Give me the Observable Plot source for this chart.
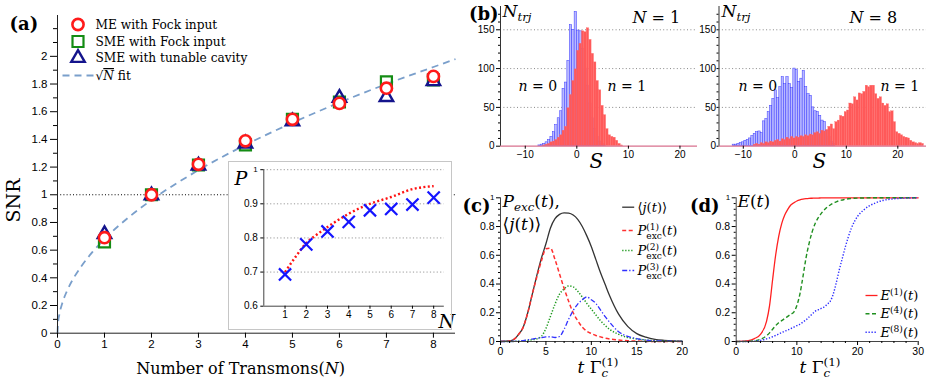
<!DOCTYPE html>
<html><head><meta charset="utf-8">
<script src="https://cdn.jsdelivr.net/npm/d3@7"></script>
<script src="https://cdn.jsdelivr.net/npm/@observablehq/plot@0.6"></script>
<style>
body{margin:0;background:#fff}
#fig{position:relative;width:926px;height:381px;overflow:hidden;background:#fff}
</style></head>
<body><div id="fig"></div>
<script>
// ---------------- data: panel (a) ----------------
const nTransmons = [1, 2, 3, 4, 5, 6, 7, 8];
const snrME = [0.69, 1.00, 1.22, 1.39, 1.545, 1.66, 1.77, 1.855];
const snrSMEFock = [0.66, 1.00, 1.215, 1.36, 1.545, 1.67, 1.815, 1.83];
const snrSMETunable = [0.715, 0.995, 1.21, 1.37, 1.53, 1.70, 1.705, 1.82];
const fitN = [0, 0.01, 0.04, 0.1, 0.2, 0.35, 0.5, 0.75, 1, 1.5, 2, 3, 4, 5, 6, 7, 8, 8.47];
const fitSNR = [0, 0.068, 0.136, 0.215, 0.304, 0.402, 0.48, 0.589, 0.68, 0.833, 0.962, 1.178, 1.36, 1.52, 1.666, 1.80, 1.923, 1.98];
const ticksA_y = [0, 0.2, 0.4, 0.6, 0.8, 1, 1.2, 1.4, 1.6, 1.8, 2];
const minorA_y = [0.1, 0.3, 0.5, 0.7, 0.9, 1.1, 1.3, 1.5, 1.7, 1.9, 2.1, 2.2];
const ticksA_x = [0, 1, 2, 3, 4, 5, 6, 7, 8];
const legendA = ["ME with Fock input", "SME with Fock input", "SME with tunable cavity", "√~{*N*} fit"];
// inset
const insetP = [0.693, 0.781, 0.819, 0.847, 0.881, 0.885, 0.898, 0.918];
const insetCurveN = [1, 1.5, 2, 2.5, 3, 4, 5, 6, 7, 8];
const insetCurveP = [0.70, 0.745, 0.785, 0.81, 0.832, 0.871, 0.90, 0.92, 0.943, 0.952];
const ticksInset_y = [0.6, 0.7, 0.8, 0.9];
const gridInset = [0.7, 0.8, 0.9, 1.0];

// ---------------- data: panel (b) histograms ----------------
const binWidthN1 = 0.47;
const blueN1Start = -7.24;
const blueN1 = [1,2,3,5,8,12,18,27,36,45,74,82,110,156,150,173,149,148,125,100,78,55,36,22,12,6,3,1];
const redN1Start = -6.30;
const redN1 = [1,2,3,5,6,8,11,14,20,25,49,66,84,99,123,132,148,147,152,137,119,108,84,72,52,40,22,14,12,11,7,3,1];
const binWidthN8 = 0.453;
const blueN8Start = -11.84;
const blueN8 = [2,2,3,4,5,7,8,10,13,16,18,19,17,32,35,44,52,61,72,62,76,89,80,89,80,75,100,98,83,87,97,76,67,65,50,45,44,39,33,31,20,12,6,3];
const redN8Start = -7.76;
const redN8 = [2,3,2,4,3,5,4,6,5,7,8,6,9,8,11,9,12,10,12,11,13,12,14,13,15,14,17,18,16,20,19,21,25,28,22,31,33,39,38,44,46,55,54,63,59,68,67,70,78,76,78,78,67,61,63,55,52,54,44,45,31,18,16,14,12,11,10,7,5,4,3,4,3];
const ticksB_y = [0, 50, 100, 150];
const minorB_y = [10,20,30,40,60,70,80,90,110,120,130,140,160,170];
const ticksB_x = [-10, 0, 10, 20];

// ---------------- data: panel (c) ----------------
const tC = [0,1,1.5,2,2.5,3,3.5,4,4.5,5,5.5,6,6.5,7,7.5,8,8.5,9,9.5,10,10.5,11,11.5,12,13,14,15,16,17,18,19,20];
const jT  = [0,0.004,0.016,0.05,0.1,0.2,0.33,0.46,0.58,0.68,0.79,0.855,0.885,0.895,0.893,0.88,0.85,0.8,0.735,0.66,0.57,0.48,0.4,0.32,0.19,0.105,0.055,0.03,0.015,0.008,0.004,0.002];
const pExc1 = [0,0.004,0.016,0.05,0.1,0.2,0.33,0.45,0.56,0.645,0.65,0.57,0.47,0.37,0.28,0.2,0.145,0.1,0.072,0.055,0.042,0.032,0.024,0.018,0.01,0.005,0.003,0.001,0,0,0,0];
const pExc2 = [0,0,0.001,0.002,0.004,0.008,0.012,0.018,0.035,0.09,0.175,0.26,0.33,0.365,0.387,0.38,0.35,0.31,0.265,0.225,0.185,0.145,0.113,0.085,0.05,0.028,0.018,0.01,0.005,0.003,0.002,0.001];
const pExc3 = [0,0,0.001,0.003,0.006,0.012,0.017,0.022,0.027,0.032,0.033,0.028,0.035,0.085,0.155,0.215,0.26,0.29,0.31,0.29,0.265,0.22,0.175,0.135,0.068,0.035,0.02,0.01,0.005,0.003,0.002,0.001];
const ticksC_x = [0, 5, 10, 15, 20];
const minorC_x = [1,2,3,4,6,7,8,9,11,12,13,14,16,17,18,19];
const ticksCD_y = [0, 0.2, 0.4, 0.6, 0.8];
const minorCD_y = [0.04,0.08,0.12,0.16,0.24,0.28,0.32,0.36,0.44,0.48,0.52,0.56,0.64,0.68,0.72,0.76,0.84,0.88,0.92,0.96];
const legendC = ["⟨*j*(*t*)⟩", "*P*_{exc}^{(1)}(*t*)", "*P*_{exc}^{(2)}(*t*)", "*P*_{exc}^{(3)}(*t*)"];

// ---------------- data: panel (d) ----------------
const tD = [0,1,2,3,4,5,5.5,6,6.5,7,7.5,8,8.5,9,9.5,10,10.5,11,11.5,12,12.5,13,13.5,14,14.5,15,15.5,16,16.5,17,17.5,18,18.5,19,19.5,20,21,22,23,24,25,26,28,30];
const e1 = [0,0.002,0.006,0.02,0.05,0.14,0.25,0.43,0.6,0.73,0.82,0.88,0.92,0.95,0.965,0.978,0.986,0.991,0.994,0.996,0.997,0.998,0.998,0.999,0.999,0.999,1,1,1,1,1,1,1,1,1,1,1,1,1,1,1,1,1,1];
const e4 = [0,0,0.001,0.005,0.015,0.04,0.06,0.085,0.11,0.13,0.145,0.16,0.175,0.19,0.205,0.25,0.33,0.45,0.58,0.68,0.76,0.82,0.86,0.89,0.915,0.935,0.95,0.963,0.972,0.98,0.985,0.99,0.993,0.995,0.997,0.998,0.999,1,1,1,1,1,1,1];
const e8 = [0,0,0,0.002,0.008,0.018,0.025,0.033,0.042,0.052,0.062,0.072,0.08,0.09,0.1,0.11,0.12,0.135,0.15,0.17,0.19,0.21,0.22,0.23,0.24,0.26,0.28,0.33,0.41,0.5,0.58,0.66,0.73,0.79,0.835,0.87,0.915,0.945,0.965,0.98,0.988,0.993,0.998,1];
const ticksD_x = [0, 10, 20, 30];
const minorD_x = [2,4,6,8,12,14,16,18,22,24,26,28];
const legendD = ["*E*^{(1)}(*t*)", "*E*^{(4)}(*t*)", "*E*^{(8)}(*t*)"];

// ---------------- helpers ----------------
const NS = "http://www.w3.org/2000/svg";
const SANS = "'Liberation Sans', Arial, Helvetica, sans-serif";
const SERIF = "'DejaVu Serif', 'Liberation Serif', serif";
const W = 926, H = 381;
const fig = document.getElementById("fig");

function box(x0, x1, y0, y1, ox = 0, oy = 0, w = W, h = H) {
  return {ox, oy, width: w, height: h, marginLeft: x0 - ox, marginRight: ox + w - x1, marginTop: y0 - oy, marginBottom: oy + h - y1};
}
const at = (B, X, Y) => ({frameAnchor: "top-left", dx: X - B.ox - B.marginLeft, dy: Y - B.oy - B.marginTop});
const label = (B, X, Y, s, o = {}) => Plot.text([s], {...at(B, X, Y), text: d => d, textAnchor: "start", lineAnchor: "bottom", fontFamily: SERIF, fontSize: 15, fill: "black", ...o});
const key = (B, X, Y, o) => Plot.dot([0], {...at(B, X, Y), ...o});
const seg = w => ({draw(ctx) { ctx.moveTo(-w / 2, 0); ctx.lineTo(w / 2, 0); }});
const pts = (xs, ys) => xs.map((x, i) => ({x, y: ys[i]}));
const bins = (start, width, counts) => counts.map((c, i) => ({x1: start + i * width - width / 2, x2: start + i * width + width / 2, y: c}));
const fmt = d3.format("~g");

function richify(svg) {
  svg.querySelectorAll("text").forEach(t => {
    const src = t.textContent;
    if (t.children.length || !/[*]|[_^~]\{/.test(src)) return;
    const F = parseFloat(getComputedStyle(t).fontSize) || 12;
    const dyAttr = t.getAttribute("dy");
    let base = 0;
    if (dyAttr) base = /em$/.test(dyAttr) ? parseFloat(dyAttr) * F : parseFloat(dyAttr);
    t.removeAttribute("dy");
    t.textContent = "";
    const parts = [];
    let italic = false, buf = "", i = 0;
    const flush = () => { if (buf) { parts.push({level: 0, items: [{text: buf, italic}]}); buf = ""; } };
    while (i < src.length) {
      const c = src[i];
      if (c === "*") { flush(); italic = !italic; i++; continue; }
      if ("_^~".includes(c) && src[i + 1] === "{") {
        flush();
        const j = src.indexOf("}", i + 2);
        const inner = src.slice(i + 2, j);
        const items = []; let it = italic, b = "";
        for (const ch of inner) { if (ch === "*") { if (b) items.push({text: b, italic: it}); b = ""; it = !it; } else b += ch; }
        if (b) items.push({text: b, italic: it});
        parts.push({level: c === "_" ? -1 : c === "^" ? 1 : 0, over: c === "~", items});
        i = j + 1; continue;
      }
      buf += c; i++;
    }
    flush();
    let cur = -base, prev = null, pendingDx = 0;
    for (const p of parts) {
      const shift = p.level === -1 ? 0.28 * F : p.level === 1 ? -0.38 * F : 0;
      const size = p.level ? 0.7 * F : F;
      const stackDx = (p.level === 1 && prev && prev.level === -1) ? -prev.width : 0;
      const spans = [];
      p.items.forEach((it, k) => {
        const ts = document.createElementNS(NS, "tspan");
        ts.textContent = it.text;
        ts.setAttribute("font-size", size);
        ts.setAttribute("font-style", it.italic ? "italic" : "normal");
        if (k === 0) {
          ts.setAttribute("dy", shift - cur); cur = shift;
          const dx = stackDx + pendingDx; if (dx) ts.setAttribute("dx", dx); pendingDx = 0;
        }
        if (p.over) ts.style.textDecoration = "overline";
        t.appendChild(ts); spans.push(ts);
      });
      const width = spans.reduce((s, ts) => s + ts.getComputedTextLength(), 0);
      if (stackDx && prev.width > width) pendingDx = prev.width - width;
      prev = {level: p.level, width};
    }
  });
}

function draw(B, opts, marks, extraStyle = {}) {
  const svg = Plot.plot({
    width: B.width, height: B.height,
    marginLeft: B.marginLeft, marginRight: B.marginRight, marginTop: B.marginTop, marginBottom: B.marginBottom,
    style: {background: "transparent", overflow: "visible", fontFamily: SANS, fontSize: "11px", color: "black", ...extraStyle},
    ...opts, marks
  });
  svg.style.position = "absolute"; svg.style.left = B.ox + "px"; svg.style.top = B.oy + "px";
  fig.appendChild(svg);
  richify(svg);
  return svg;
}
const yAx = (ticks, o = {}) => Plot.axisY(ticks, {tickSize: 5, tickPadding: 3, tickFormat: fmt, label: null, ...o});
const xAx = (ticks, o = {}) => Plot.axisX(ticks, {tickSize: 5, tickPadding: 2, tickFormat: fmt, label: null, ...o});
const minorY = (ticks, s = 3) => Plot.axisY(ticks, {tickSize: s, tickFormat: () => "", label: null});
const minorX = (ticks, s = 2) => Plot.axisX(ticks, {tickSize: s, tickFormat: () => "", label: null});
const BUTT = {strokeLinecap: "butt", strokeLinejoin: "round"};

// ---------------- panel (a) ----------------
const BA = box(57, 455, 15, 332.7);
const rows = nTransmons.map((n, i) => ({n, me: snrME[i], fock: snrSMEFock[i], tune: snrSMETunable[i]}));
const cRed = "#ff1a1a", cGreen = "#148c14", cNavy = "#14148c", cFit = "#7a9fcb";
draw(BA, {x: {domain: [0, 8.47]}, y: {domain: [0, 2.295]}}, [
  Plot.ruleY([1], {stroke: "black", strokeDasharray: "1,2.2", strokeWidth: 1.1}),
  Plot.line(pts(fitN, fitSNR), {x: "x", y: "y", curve: "monotone-x", stroke: cFit, strokeWidth: 1.8, strokeDasharray: "7,5", ...BUTT}),
  Plot.dot(rows, {x: "n", y: "fock", symbol: "square", r: 6.2, stroke: cGreen, strokeWidth: 2.2, fill: "none"}),
  Plot.dot(rows, {x: "n", y: "tune", symbol: "triangle", r: 5, stroke: cNavy, strokeWidth: 2.4, fill: "none"}),
  Plot.dot(rows, {x: "n", y: "me", symbol: "circle", r: 5.6, stroke: cRed, strokeWidth: 2.6, fill: "white"}),
  Plot.ruleX([0], {stroke: "#222"}),
  Plot.ruleY([0], {stroke: "#222"}),
  yAx(ticksA_y, {tickSize: 7, fontSize: 11.5}),
  minorY(minorA_y, 4),
  xAx(ticksA_x, {fontSize: 11.5}),
  // legend
  key(BA, 77.5, 24, {symbol: "circle", r: 5.6, stroke: cRed, strokeWidth: 2.6, fill: "white"}),
  key(BA, 77.5, 41, {symbol: "square", r: 6.2, stroke: cGreen, strokeWidth: 2.2, fill: "none"}),
  key(BA, 77.5, 57.5, {symbol: "triangle", r: 5, stroke: cNavy, strokeWidth: 2.4, fill: "none"}),
  key(BA, 77.5, 75, {symbol: seg(31), stroke: cFit, strokeWidth: 1.8, strokeDasharray: "7,5", fill: "none"}),
  label(BA, 95, 28.5, legendA[0], {fontSize: 12.2}),
  label(BA, 95, 45, legendA[1], {fontSize: 12.2}),
  label(BA, 95, 61.5, legendA[2], {fontSize: 12.2}),
  label(BA, 95, 79.5, legendA[3], {fontSize: 12.2}),
  label(BA, 9, 29, "(a)", {fontSize: 18, fontWeight: "bold"}),
  label(BA, 13, 200, "SNR", {fontSize: 19, rotate: -90, textAnchor: "middle", lineAnchor: "middle"}),
  label(BA, 240, 373, "Number of Transmons(*N*)", {fontSize: 16, textAnchor: "middle"})
]);

// inset
const BI = box(263.3, 443.8, 169.2, 305.7, 228, 161, 224, 169);
draw(BI, {x: {domain: [0, 8.5]}, y: {domain: [0.6, 1.0]}}, [
  Plot.ruleY(gridInset, {stroke: "#999", strokeDasharray: "1.2,2.2", strokeWidth: 1}),
  Plot.line(pts(insetCurveN, insetCurveP), {x: "x", y: "y", curve: "monotone-x", stroke: "#ff1111", strokeWidth: 2.4, strokeDasharray: "2,2.4", ...BUTT}),
  Plot.dot(pts(nTransmons, insetP), {x: "x", y: "y", symbol: "times", r: 5.6, stroke: "#1515ff", strokeWidth: 2.2}),
  Plot.ruleX([0], {stroke: "#444"}),
  Plot.ruleY([0.6], {stroke: "#444"}),
  yAx(ticksInset_y, {tickSize: 3, fontSize: 10}),
  yAx([1], {tickSize: 3, fontSize: 8}),
  xAx(nTransmons, {tickSize: 3, fontSize: 10}),
  label(BI, 234, 184, "P", {fontSize: 19, fontStyle: "italic"}),
  label(BI, 438, 327, "N", {fontSize: 19, fontStyle: "italic"})
], {background: "white", outline: "1.5px solid #c6c6c6", outlineOffset: "-1.5px"});

// ---------------- panel (b) ----------------
function histPanel(B, dom, blue, red, nLabel, pos) {
  return draw(B, {x: {domain: dom}, y: {domain: [0, 180]}}, [
    Plot.ruleY([50, 100, 150], {stroke: "#888", strokeDasharray: "1,2.4", strokeWidth: 1}),
    Plot.rectY(blue, {x1: "x1", x2: "x2", y: "y", fill: "#b9b9ff", stroke: "#3a3aff", strokeWidth: 0.5}),
    Plot.rectY(red, {x1: "x1", x2: "x2", y: "y", fill: "#ff5959", stroke: "#ff6a6a", strokeWidth: 0.3}),
    Plot.ruleY([0], {stroke: "#d8708e", strokeWidth: 1.3}),
    Plot.ruleX([dom[0]], {stroke: "#333"}),
    yAx(ticksB_y, {tickSize: pos.ts, tickPadding: pos.tp, fontSize: 10}),
    minorY(minorB_y, 2),
    xAx(ticksB_x, {tickSize: 3, tickPadding: 2, fontSize: 10}),
    label(B, pos.nx, 16, "*N*_{*trj*}", {fontSize: 17}),
    label(B, pos.Nx, 22, nLabel, {fontSize: 16}),
    label(B, pos.n0, 90.5, "*n* = 0", {fontSize: 14}),
    label(B, pos.n1, 90.5, "*n* = 1", {fontSize: 14}),
    label(B, pos.S, 167, "S", {fontSize: 20, fontStyle: "italic"}),
    ...(pos.tag ? [label(B, 498, 19, "(b)", {fontSize: 18, fontWeight: "bold", textAnchor: "end"})] : [])
  ]);
}
histPanel(box(500, 697, 6, 145.7), [-14.8, 23.4],
  bins(blueN1Start, binWidthN1, blueN1), bins(redN1Start, binWidthN1, redN1), "*N* = 1",
  {ts: 4, tp: 2, nx: 502, Nx: 632, n0: 518, n1: 607, S: 589, tag: true});
histPanel(box(718.5, 926, 6, 145.7), [-14.72, 25.57],
  bins(blueN8Start, binWidthN8, blueN8), bins(redN8Start, binWidthN8, redN8), "*N* = 8",
  {ts: 2, tp: 1, nx: 721, Nx: 849, n0: 738, n1: 880, S: 812, tag: false});

// ---------------- panel (c) ----------------
const BC = box(500, 681.7, 197.3, 341);
const cBlack = "#333", cR = "#ff3030", cG = "#1f9a1f", cB = "#3030ff";
const styleC = [
  {stroke: cBlack, strokeWidth: 1.3},
  {stroke: cR, strokeWidth: 1.5, strokeDasharray: "4,2.5", ...BUTT},
  {stroke: cG, strokeWidth: 1.5, strokeDasharray: "1.3,1.7", ...BUTT},
  {stroke: cB, strokeWidth: 1.3, strokeDasharray: "5,2,1.3,2", ...BUTT}
];
const seriesC = [jT, pExc1, pExc2, pExc3];
const legYC = [206.7, 230, 250, 270];
draw(BC, {x: {domain: [0, 20]}, y: {domain: [0, 1]}}, [
  ...seriesC.map((s, k) => Plot.line(pts(tC, s), {x: "x", y: "y", curve: "monotone-x", ...styleC[k]})),
  Plot.ruleX([0], {stroke: "#444"}),
  Plot.ruleY([0], {stroke: "#444"}),
  yAx(ticksCD_y, {tickSize: 4, tickPadding: 2, fontSize: 10.5}),
  yAx([1], {tickSize: 4, tickPadding: 2, fontSize: 8}),
  minorY(minorCD_y, 2),
  xAx(ticksC_x, {tickSize: 4, tickPadding: 2, fontSize: 10.5}),
  minorX(minorC_x, 2),
  ...styleC.map((st, k) => key(BC, 627.7, legYC[k], {symbol: seg(12), fill: "none", ...st})),
  ...legendC.map((s, k) => label(BC, 637, legYC[k] + 4.5, s, {fontSize: 13})),
  label(BC, 490, 211, "(c)", {fontSize: 18, fontWeight: "bold", textAnchor: "end"}),
  label(BC, 502, 206, "*P*_{*exc*}(*t*),", {fontSize: 17}),
  label(BC, 502, 229.5, "⟨*j*(*t*)⟩", {fontSize: 17}),
  label(BC, 577, 372, "*t* Γ_{*c*}^{(1)}", {fontSize: 17})
]);

// ---------------- panel (d) ----------------
const BD = box(735.7, 917.7, 197.3, 341);
const styleD = [
  {stroke: "#ff2020", strokeWidth: 1.3},
  {stroke: "#1f8f1f", strokeWidth: 1.4, strokeDasharray: "4,2.5", ...BUTT},
  {stroke: "#2b2bff", strokeWidth: 1.4, strokeDasharray: "1.3,1.7", ...BUTT}
];
const seriesD = [e1, e4, e8];
const legYD = [295, 313.3, 331.7];
draw(BD, {x: {domain: [0, 30]}, y: {domain: [0, 1]}}, [
  ...seriesD.map((s, k) => Plot.line(pts(tD, s), {x: "x", y: "y", curve: "monotone-x", ...styleD[k]})),
  Plot.ruleX([0], {stroke: "#444"}),
  Plot.ruleY([0], {stroke: "#444"}),
  yAx(ticksCD_y, {tickSize: 4, tickPadding: 2, fontSize: 10.5}),
  yAx([1], {tickSize: 4, tickPadding: 2, fontSize: 8}),
  minorY(minorCD_y, 2),
  xAx(ticksD_x, {tickSize: 4, tickPadding: 2, fontSize: 10.5}),
  minorX(minorD_x, 2),
  ...styleD.map((st, k) => key(BD, 871, legYD[k], {symbol: seg(12), fill: "none", ...st})),
  ...legendD.map((s, k) => label(BD, 880, legYD[k] + 4.5, s, {fontSize: 13})),
  label(BD, 719, 211, "(d)", {fontSize: 18, fontWeight: "bold", textAnchor: "end"}),
  label(BD, 737, 206, "*E*(*t*)", {fontSize: 17}),
  label(BD, 799, 372, "*t* Γ_{*c*}^{(1)}", {fontSize: 17})
]);
</script>
</body></html>
